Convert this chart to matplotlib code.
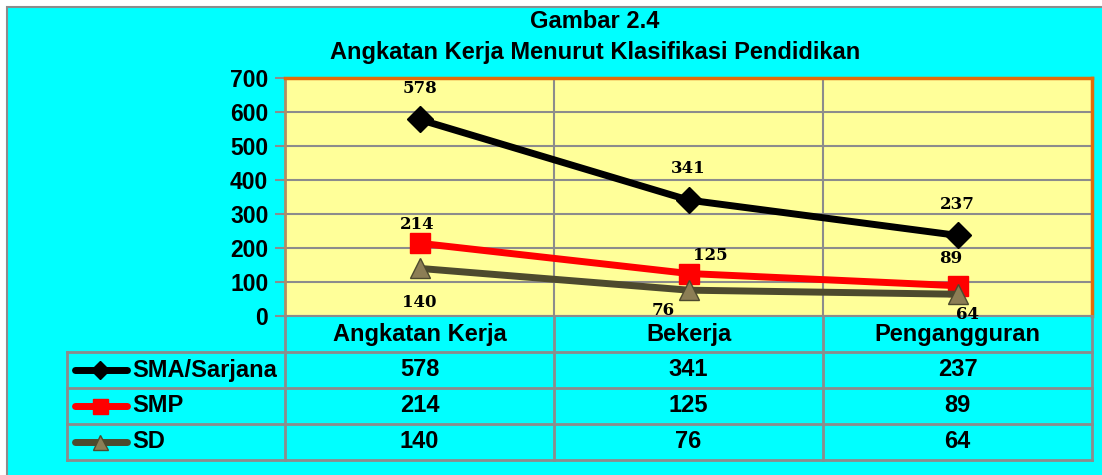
import matplotlib
matplotlib.use("Agg")
import matplotlib.pyplot as plt
from matplotlib.lines import Line2D
from matplotlib.transforms import blended_transform_factory

categories = ["Angkatan Kerja", "Bekerja", "Pengangguran"]
series_names = ["SMA/Sarjana", "SMP", "SD"]
sma = [578, 341, 237]
smp = [214, 125, 89]
sd = [140, 76, 64]
yticks = [0, 100, 200, 300, 400, 500, 600, 700]
title_lines = ["Gambar 2.4", "Angkatan Kerja Menurut Klasifikasi Pendidikan"]

W, H = 1102, 475
CYAN = "#00FFFF"
PLOTBG = "#FFFF99"
ORANGE = "#E36C0A"
GRID = "#8C8C8C"
SANS = ["Liberation Sans", "DejaVu Sans"]
SERIF = ["DejaVu Serif"]

fig = plt.figure(figsize=(W / 100, H / 100), dpi=100)
fig.patch.set_facecolor("white")

def px(x, y):
    return x / W, 1 - y / H

# cyan background with gray border (border visible on top and left only)
bg = plt.Rectangle(px(7, 490), (W + 20 - 7) / W, (490 - 7) / H, transform=fig.transFigure,
                   facecolor=CYAN, edgecolor="#8C8C8C", linewidth=1.5, zorder=-10)
fig.patches.append(bg)

L, R, T, B = 285, 1092, 78, 316
ax = fig.add_axes([L / W, 1 - B / H, (R - L) / W, (B - T) / H])
ax.set_facecolor(PLOTBG)
ax.set_xlim(-0.5, 2.5)
ax.set_ylim(0, 700)
ax.set_yticks(yticks)
ax.set_yticklabels([str(v) for v in yticks], fontsize=16.5, fontweight="bold", family=SANS)
ax.tick_params(axis="y", length=7, width=1.5, color=GRID, pad=5)
ax.set_xticks([])
ax.yaxis.grid(True, color=GRID, linewidth=1.5)
for xb in [0.5, 1.5]:
    ax.axvline(xb, color=GRID, linewidth=1.5, zorder=0.5)
ax.set_axisbelow(True)
for s in ["top", "right"]:
    ax.spines[s].set_color(ORANGE)
    ax.spines[s].set_linewidth(2.5)
ax.spines["left"].set_color("#B08C64")
ax.spines["left"].set_linewidth(2)
ax.spines["bottom"].set_color(GRID)
ax.spines["bottom"].set_linewidth(1.5)

xs = list(range(len(categories)))
styles = [
    dict(color="black", marker="D", markersize=13, markerfacecolor="black", markeredgecolor="black"),
    dict(color="#FF0000", marker="s", markersize=15, markerfacecolor="#FF0000", markeredgecolor="#FF0000"),
    dict(color="#4D4A2E", marker="^", markersize=15, markerfacecolor="#8C7E55", markeredgecolor="#4D4A2E"),
]
all_series = [sma, smp, sd]
for vals, st in zip(all_series, styles):
    ax.plot(xs, vals, linewidth=5, solid_capstyle="round", zorder=3, **st)

# data labels (offsets in pixels -> points)
offsets = [
    [(0, -31), (0, -32), (0, -31)],
    [(-2, -19), (22, -18), (-7, -27)],
    [(0, 34), (-25, 20), (10, 20)],
]
for vals, offs in zip(all_series, offsets):
    for x, v, (dx, dy) in zip(xs, vals, offs):
        ax.annotate(str(v), (x, v), xytext=(dx * 0.72, -dy * 0.72), textcoords="offset points",
                    ha="center", va="center", fontsize=12, fontweight="bold", family=SERIF,
                    zorder=5, annotation_clip=False)

# title
fig.text(595 / W, 1 - 22 / H, title_lines[0], ha="center", va="center",
         fontsize=17, fontweight="bold", family=SANS)
fig.text(595 / W, 1 - 52 / H, title_lines[1], ha="center", va="center",
         fontsize=17, fontweight="bold", family=SANS)

# table
tl = dict(color=GRID, linewidth=2, transform=fig.transFigure)
rows_y = [316, 352, 388, 424, 460]
col_x = [67, 285, 554, 823, 1092]
def hline(y, x0, x1):
    fig.add_artist(Line2D([x0 / W, x1 / W], [1 - y / H, 1 - y / H], **tl))
def vline(x, y0, y1):
    fig.add_artist(Line2D([x / W, x / W], [1 - y0 / H, 1 - y1 / H], **tl))
for y in rows_y[1:]:
    hline(y, col_x[0], col_x[-1])
for x in col_x[1:]:
    vline(x, 316, 460)
vline(col_x[0], 352, 460)

bt = blended_transform_factory(ax.transData, fig.transFigure)
for x, c in zip(xs, categories):
    ax.text(x, 1 - 335 / H, c, transform=bt, ha="center", va="center",
            fontsize=17, fontweight="bold", family=SANS, clip_on=False)
for r, (name, vals, st) in enumerate(zip(series_names, all_series, styles)):
    yc = (rows_y[r + 1] + rows_y[r + 2]) / 2
    fig.add_artist(Line2D([75 / W, 127 / W], [1 - yc / H, 1 - yc / H], transform=fig.transFigure,
                          linewidth=5, solid_capstyle="round", color=st["color"]))
    fig.add_artist(Line2D([100 / W], [1 - yc / H], transform=fig.transFigure, linestyle="none",
                          marker=st["marker"], markersize=st["markersize"] * 0.72,
                          markerfacecolor=st["markerfacecolor"], markeredgecolor=st["markeredgecolor"]))
    fig.text(132 / W, 1 - yc / H, name, ha="left", va="center", fontsize=17,
             fontweight="bold", family=SANS)
    for x, v in zip(xs, vals):
        ax.text(x, 1 - yc / H, str(v), transform=bt, ha="center", va="center",
                fontsize=17, fontweight="bold", family=SANS, clip_on=False)

fig.savefig("out.png", dpi=100, facecolor=fig.get_facecolor())
